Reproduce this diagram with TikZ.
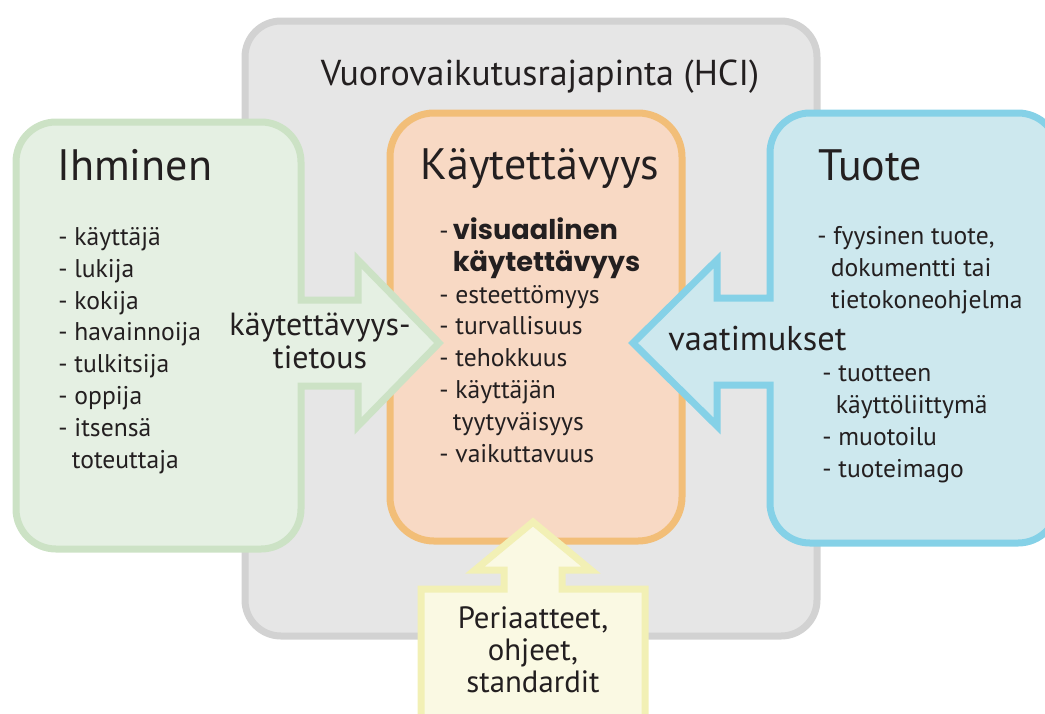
\documentclass[tikz,border=0pt]{standalone}
\usepackage{fontspec}
\setmainfont{PT Sans}
\newfontfamily\heavyfont{Poppins}
\definecolor{ink}{HTML}{231F20}
\definecolor{hcifill}{HTML}{E6E6E6}
\definecolor{hciline}{HTML}{D2D2D2}
\definecolor{humfill}{HTML}{E5F0E3}
\definecolor{humline}{HTML}{CCE2C5}
\definecolor{usefill}{HTML}{F8D9C4}
\definecolor{useline}{HTML}{F2BE78}
\definecolor{prodfill}{HTML}{CDE8EE}
\definecolor{prodline}{HTML}{85D1E7}
\definecolor{normfill}{HTML}{FAF9E3}
\definecolor{normline}{HTML}{F2F0B5}
\newcommand{\vis}[1]{{\heavyfont\bfseries\fontsize{13.6}{15.8}\selectfont #1}}

\begin{document}
\begin{tikzpicture}[
  x=0.5pt, y=-0.5pt,
  every node/.style={inner sep=0pt, text=ink},
  panel/.style={line width=3.5pt, rounded corners=20pt},
  % node styles for the printed texts (multi-line nodes sit on their last line)
  title/.style={font=\fontsize{18}{21}\selectfont, anchor=base},
  head/.style={font=\fontsize{22}{26}\selectfont, anchor=base west},
  items/.style={font=\fontsize{12.8}{15.9}\selectfont, align=left, anchor=base west},
  label/.style={font=\fontsize{16}{16.5}\selectfont, align=center, anchor=base}]

  \useasboundingbox (0,0) rectangle (1045,713);

  % panels
  \draw[panel, rounded corners=18pt, draw=hciline, fill=hcifill] (245,21) rectangle (817,636);
  \draw[panel, rounded corners=22pt, draw=useline, fill=usefill] (390,113) rectangle (682,541);
  \draw[panel, draw=humline, fill=humfill]
    (16,330) -- (16,549) -- (301,549) [sharp corners] -- (301,386)
    -- (358,386) -- (358,426) -- (439,343) -- (358,260) -- (358,300) -- (301,300)
    [rounded corners=20pt] -- (301,122) -- (16,122) -- cycle;
  \draw[panel, draw=prodline, fill=prodfill]
    (1058,330) -- (1058,113) -- (770,113) [sharp corners] -- (770,298)
    -- (717,298) -- (717,260) -- (633,343) -- (717,426) -- (717,385) -- (770,385)
    [rounded corners=20pt] -- (770,543) -- (1058,543) -- cycle;
  \draw[line width=3.5pt, draw=normline, fill=normfill]
    (421,740) -- (421,589) -- (504,589) -- (504,570) -- (475,570) -- (533,522)
    -- (591,570) -- (562,570) -- (562,589) -- (645,589) -- (645,740) -- cycle;

  % headings
  \node[title] (hci) at (540,85) {Vuorovaikutusrajapinta (HCI)};
  \node[head] (human) at (57,180) {Ihminen};
  \node[head] (usab) at (420,179) {Käytettävyys};
  \node[head] (prod) at (818,180) {Tuote};

  % lists
  \node[items] (humlist) at (58,468) {- käyttäjä\\- lukija\\- kokija\\- havainnoija\\
    - tulkitsija\\- oppija\\- itsensä\\\hphantom{-\,}toteuttaja};
  \node[items] (uselist) at (439,462) {-\,\vis{visuaalinen}\\
    \hphantom{-\,}\vis{käytettävyys}\\- esteettömyys\\- turvallisuus\\
    - tehokkuus\\- käyttäjän\\\hphantom{-\,}tyytyväisyys\\- vaikuttavuus};
  \node[items] (prodlist) at (817,308) {- fyysinen tuote,\\
    \hphantom{-\,}dokumentti tai\\\hphantom{-\,}tietokoneohjelma};
  \node[items] (uilist) at (822,477) {- tuotteen\\\hphantom{-\,}käyttöliittymä\\
    - muotoilu\\- tuoteimago};

  % arrow labels
  \node[label] (know) at (320,368) {käytettävyys-\\tietous};
  \node[label, font=\fontsize{17.2}{17}\selectfont, anchor=base west] (req) at (668,350) {vaatimukset};
  \node[label, font=\fontsize{15.4}{16}\selectfont] (norms) at (533,692)
    {Periaatteet,\\ohjeet,\\standardit};
\end{tikzpicture}
\end{document}
